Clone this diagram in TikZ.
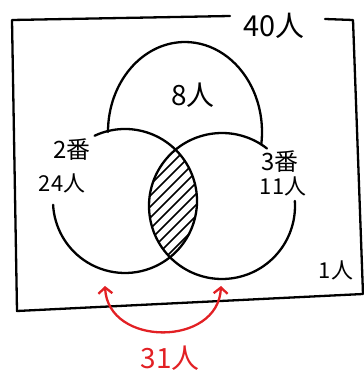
\documentclass[tikz,border=0pt]{standalone}
\usepackage{fontspec}
\setmainfont{Noto Sans CJK JP}
\usetikzlibrary{arrows.meta}
\definecolor{penred}{RGB}{226,32,36}
\begin{document}
\begin{tikzpicture}[x=1bp,y=1bp,
  ink/.style={line width=2.3bp, line cap=round, line join=round},
  lbl/.style={inner sep=0pt},
  redtip/.tip={Straight Barb[length=6bp,width=14bp]}]
\useasboundingbox (0,0) rectangle (364,372);
% frame
\node[lbl,font=\fontsize{29}{31}\selectfont] (total) at (274,346) {40人};
\draw[ink] (230,356) -- (12,352) -- (17,61) -- (363,78) -- (353,352) -- (325,353);
% top region
\draw[ink] (108,240) arc[start angle=180,end angle=-8,x radius=77,y radius=90];
\node[lbl,font=\fontsize{28}{30}\selectfont] (eight) at (193,277) {8人};
% hatched intersection
\begin{scope}
\clip (125,171) circle[radius=72];
\clip (222,166) circle[radius=73];
\foreach \i in {-12,...,12} \draw[line width=1.5bp] (173+\i*11-90,166-90) -- ++(180,180);
\end{scope}
% circles
\draw[ink] (125,171) ++(115:72) arc[start angle=115,end angle=-177,radius=72];
\draw[ink] (222,166) ++(52:73) arc[start angle=52,end angle=364,radius=73];
% labels
\node[lbl,font=\fontsize{24}{26}\selectfont] (two) at (72,222) {2番};
\node[lbl,font=\fontsize{22}{24}\selectfont] (twofour) at (62,189) {24人};
\node[lbl,font=\fontsize{24}{26}\selectfont] (three) at (280,210) {3番};
\node[lbl,font=\fontsize{22}{24}\selectfont] (eleven) at (283,186) {11人};
\node[lbl,font=\fontsize{22}{24}\selectfont] (one) at (336,102) {1人};
% red arrow
\coordinate (la) at (105,86);
\coordinate (ra) at (221,86);
\draw[ink,penred,redtip-redtip] (la) .. controls (108,25) and (218,25) .. (ra);
\node[lbl,text=penred,font=\fontsize{28}{30}\selectfont] (thirtyone) at (170,14) {31人};
\end{tikzpicture}
\end{document}
